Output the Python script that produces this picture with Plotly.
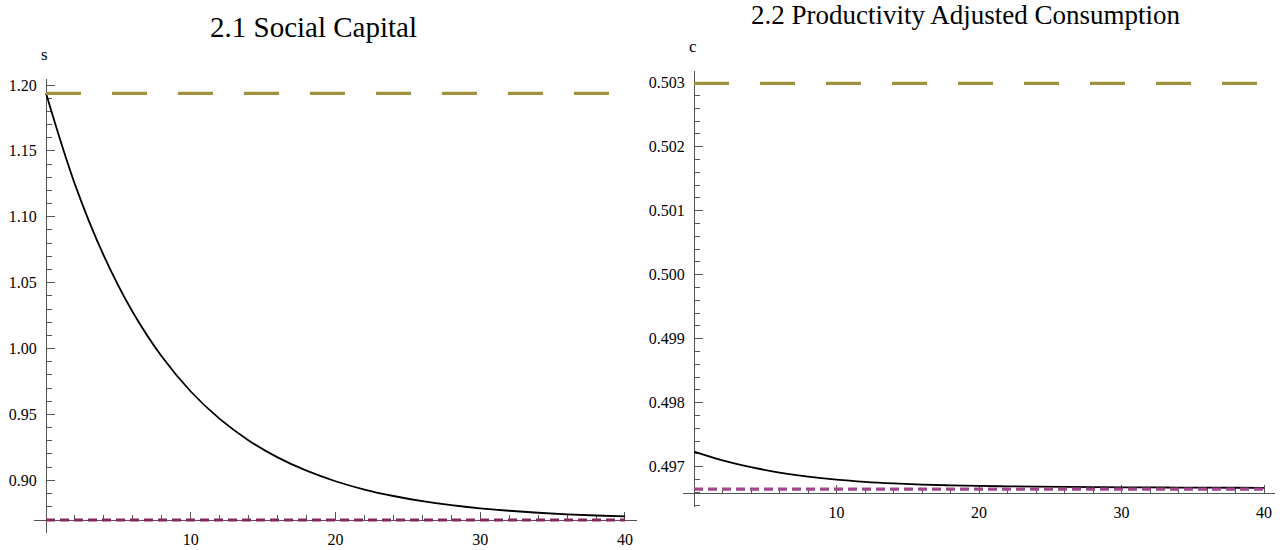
import plotly.graph_objects as go

# ---------------- data ----------------
t_vals = [0, 2, 4, 6, 8, 10, 12, 14, 16, 18, 20, 22, 24, 26, 28, 30, 32, 34, 36, 38, 40]
s_path = [1.1937, 1.1246, 1.0703, 1.0275, 0.9939, 0.9674, 0.9466, 0.9303, 0.9174, 0.9073,
          0.8993, 0.8930, 0.8881, 0.8842, 0.8811, 0.8787, 0.8769, 0.8754, 0.8742, 0.8733, 0.8726]
c_path = [0.497234, 0.497098, 0.496993, 0.496908, 0.496845, 0.496798, 0.496764, 0.496739,
          0.496720, 0.496708, 0.496699, 0.496693, 0.496688, 0.496684, 0.496681, 0.496678,
          0.496676, 0.496674, 0.496672, 0.496671, 0.496670]
t_ends = [0, 40]
s_old_ss = [1.1937, 1.1937]
s_new_ss = [0.8699, 0.8699]
c_old_ss = [0.50299, 0.50299]
c_new_ss = [0.49665, 0.49665]

x_ticks = [10, 20, 30, 40]
s_ticks = [0.90, 0.95, 1.00, 1.05, 1.10, 1.15, 1.20]
c_ticks = [0.497, 0.498, 0.499, 0.500, 0.501, 0.502, 0.503]

# ---------------- styles ----------------
W, H = 1284, 550
FONT = "Liberation Serif, Times New Roman, Times, serif"
AX = "#555555"
GOLD = "#a0913f"
PURPLE_L = "#82295f"
PURPLE_R = "#a0498a"

def px(x):
    return x / W

def py(y):
    return 1 - y / H

fig = go.Figure()

# left panel
fig.add_trace(go.Scatter(x=t_vals, y=s_path, mode="lines", line=dict(color="black", width=1.8, shape="spline", smoothing=1),
                         xaxis="x", yaxis="y", showlegend=False))
fig.add_trace(go.Scatter(x=t_ends, y=s_old_ss, mode="lines", line=dict(color=GOLD, width=3.2, dash="35px,31px"),
                         xaxis="x", yaxis="y", showlegend=False))
fig.add_trace(go.Scatter(x=t_ends, y=s_new_ss, mode="lines", line=dict(color=PURPLE_L, width=3.2, dash="9px,5px"),
                         xaxis="x", yaxis="y", showlegend=False))
# right panel
fig.add_trace(go.Scatter(x=t_vals, y=c_path, mode="lines", line=dict(color="black", width=1.8, shape="spline", smoothing=1),
                         xaxis="x2", yaxis="y2", showlegend=False))
fig.add_trace(go.Scatter(x=t_ends, y=c_old_ss, mode="lines", line=dict(color=GOLD, width=3.2, dash="35px,31px"),
                         xaxis="x2", yaxis="y2", showlegend=False))
fig.add_trace(go.Scatter(x=t_ends, y=c_new_ss, mode="lines", line=dict(color=PURPLE_R, width=3.2, dash="9px,5px"),
                         xaxis="x2", yaxis="y2", showlegend=False))

tickfont = dict(family=FONT, size=16, color="black")

def xax(domain, rng, pos, standoff):
    return dict(domain=domain, range=rng, anchor="free", position=pos, automargin=False,
                showgrid=False, zeroline=False, showline=True, linecolor=AX, linewidth=1,
                ticks="inside", ticklen=8, tickcolor=AX, tickwidth=1,
                tickvals=x_ticks, ticktext=[str(v) for v in x_ticks],
                tickfont=tickfont, ticklabelstandoff=standoff,
                minor=dict(ticks="inside", ticklen=5, tickcolor=AX, dtick=2, tick0=0, showgrid=False),
                layer="below traces", fixedrange=True)

def yax(domain, rng, pos, ticks, fmt, mdt):
    return dict(domain=domain, range=rng, anchor="free", position=pos, automargin=False,
                showgrid=False, zeroline=False, showline=True, linecolor=AX, linewidth=1,
                ticks="inside", ticklen=8, tickcolor=AX, tickwidth=1,
                tickvals=ticks, ticktext=[format(v, fmt) for v in ticks],
                tickfont=tickfont, ticklabelstandoff=6,
                minor=dict(ticks="inside", ticklen=5, tickcolor=AX, dtick=mdt, tick0=0, showgrid=False),
                layer="below traces", fixedrange=True)

fig.update_layout(
    width=W, height=H,
    margin=dict(l=0, r=0, t=0, b=0, pad=0, autoexpand=False),
    paper_bgcolor="white", plot_bgcolor="white",
    xaxis=xax([px(34), px(637)], [-0.829, 40.83], py(520), 5),
    yaxis=yax([py(533), py(79)], [0.86002, 1.204553], px(46), s_ticks, ".2f", 0.01),
    xaxis2=xax([px(683), px(1275)], [-0.772, 40.772], py(493.3), 4),
    yaxis2=yax([py(507), py(70.7)], [0.49637, 0.503188], px(694), c_ticks, ".3f", 0.0002),
    annotations=[
        dict(text="2.1 Social Capital", x=px(313.5), y=py(27), xref="paper", yref="paper",
             xanchor="center", yanchor="middle", showarrow=False, font=dict(family=FONT, size=29, color="black")),
        dict(text="2.2 Productivity Adjusted Consumption", x=px(966), y=py(15), xref="paper", yref="paper",
             xanchor="center", yanchor="middle", showarrow=False, font=dict(family=FONT, size=27, color="black")),
        dict(text="s", x=px(45), y=py(55), xref="paper", yref="paper",
             xanchor="center", yanchor="middle", showarrow=False, font=dict(family=FONT, size=17, color="black")),
        dict(text="c", x=px(692.7), y=py(46.7), xref="paper", yref="paper",
             xanchor="center", yanchor="middle", showarrow=False, font=dict(family=FONT, size=17, color="black")),
    ],
)

fig.write_html("out.html", config={"displayModeBar": False},
               post_script="document.body.style.margin='0';document.body.style.overflow='hidden';")
